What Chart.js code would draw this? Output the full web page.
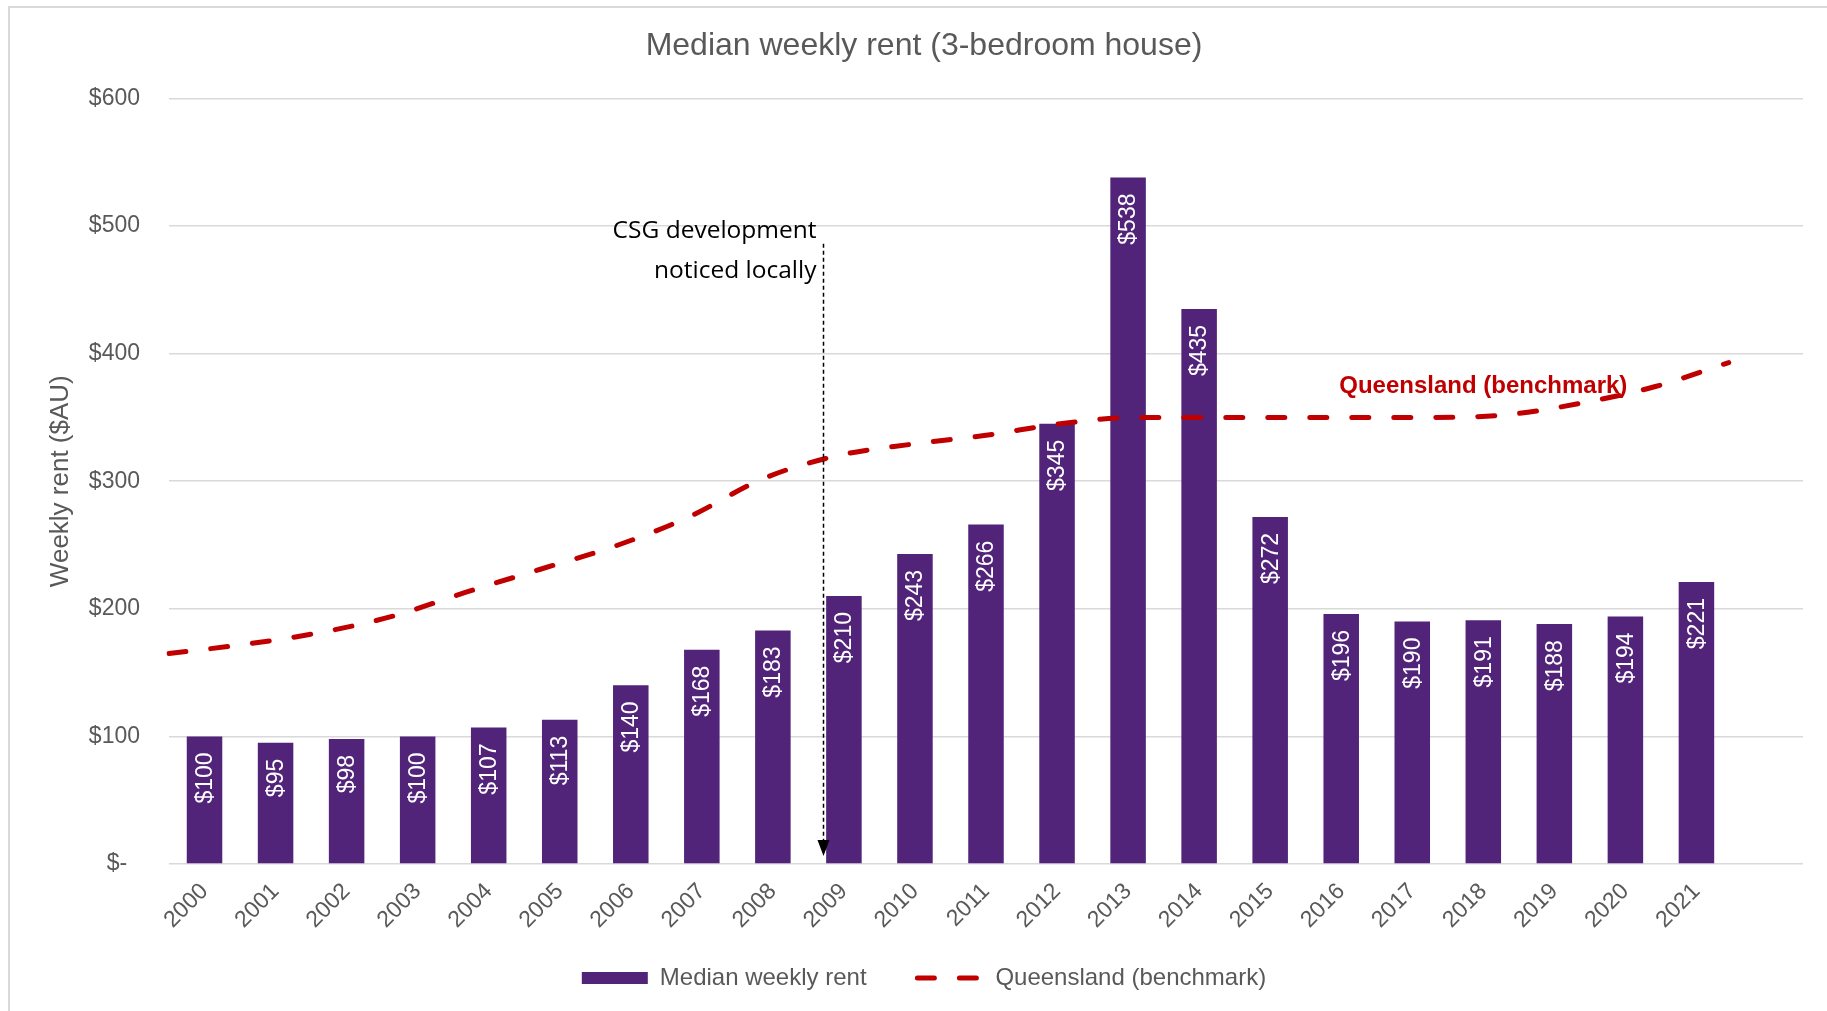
<!DOCTYPE html>
<html>
<head>
<meta charset="utf-8">
<script src="https://cdn.jsdelivr.net/npm/chart.js@4.4.1/dist/chart.umd.min.js"></script>
<style>
  html, body { margin: 0; padding: 0; background: #fff; }
  #wrap { position: relative; width: 1827px; height: 1011px; overflow: hidden; }
  #frame { position: absolute; left: 8px; top: 6px; width: 1840px; height: 1030px; border: 2px solid #d9d9d9; box-sizing: border-box; }
  canvas { position: absolute; left: 0; top: 0; }
</style>
</head>
<body>
<div id="wrap">
  <div id="frame"></div>
  <canvas id="c" width="1827" height="1011"></canvas>
</div>
<script>
// categories (last slot is empty, Excel leaves room after 2021)
const years = ['2000', '2001', '2002', '2003', '2004', '2005', '2006', '2007', '2008', '2009', '2010',
  '2011', '2012', '2013', '2014', '2015', '2016', '2017', '2018', '2019', '2020', '2021', ''];
// median weekly rent, 3-bedroom house ($AU)
const rent = [100, 95, 98, 100, 107, 113, 140, 168, 183, 210, 243, 266, 345, 538, 435, 272, 196, 190, 191, 188, 194, 221];
// Queensland benchmark
const qld = [165, 172, 181, 194, 213, 231, 249, 272, 302, 320, 329, 336, 345, 350, 350, 350, 350, 350, 352, 361, 374, 393];
const yTicks = [0, 100, 200, 300, 400, 500, 600];

const GREY = '#595959';
const PURPLE = '#51247a';
const RED = '#c00000';
const FONT = '"Liberation Sans", Arial, sans-serif';

// annotation: CSG development arrow between 2008 and 2009
const csgIndex = 8.7;
const csgTop = 486;

const overlay = {
  id: 'overlay',
  afterDatasetsDraw(chart) {
    const ctx = chart.ctx;
    const x = chart.scales.x;
    const y = chart.scales.y;

    // value labels inside bar tops
    const meta = chart.getDatasetMeta(0);
    ctx.save();
    ctx.fillStyle = '#fff';
    ctx.font = '23px ' + FONT;
    ctx.textAlign = 'right';
    ctx.textBaseline = 'middle';
    meta.data.forEach((bar, i) => {
      ctx.save();
      ctx.translate(bar.x + 1, bar.y + 16);
      ctx.rotate(-Math.PI / 2);
      ctx.fillText('$' + rent[i], 0, 0);
      ctx.restore();
    });
    ctx.restore();

    // dashed arrow
    const p8 = x.getPixelForValue(8), p9 = x.getPixelForValue(9);
    const ax = Math.round(p8 + (csgIndex - 8) * (p9 - p8)) + 0.5;
    const top = y.getPixelForValue(csgTop);
    const tip = chart.chartArea.bottom - 8;
    ctx.save();
    ctx.strokeStyle = '#000';
    ctx.lineWidth = 1.5;
    ctx.setLineDash([4, 3]);
    ctx.beginPath();
    ctx.moveTo(ax, top);
    ctx.lineTo(ax, tip - 14);
    ctx.stroke();
    ctx.setLineDash([]);
    ctx.fillStyle = '#000';
    ctx.beginPath();
    ctx.moveTo(ax - 6, tip - 16);
    ctx.lineTo(ax + 6, tip - 16);
    ctx.lineTo(ax, tip);
    ctx.closePath();
    ctx.fill();

    ctx.font = '24.5px "Open Sans", sans-serif';
    ctx.textAlign = 'right';
    ctx.textBaseline = 'middle';
    ctx.fillText('CSG development', ax - 7, 231);
    ctx.fillText('noticed locally', ax - 7, 271);

    // Queensland label
    ctx.fillStyle = RED;
    ctx.font = 'bold 24px ' + FONT;
    ctx.textAlign = 'center';
    ctx.fillText('Queensland (benchmark)', x.getPixelForValue(18), y.getPixelForValue(374));
    ctx.restore();
  }
};

new Chart(document.getElementById('c'), {
  type: 'bar',
  data: {
    labels: years,
    datasets: [
      {
        type: 'bar',
        label: 'Median weekly rent',
        data: rent,
        backgroundColor: PURPLE,
        borderWidth: 0,
        grouped: false,
        barPercentage: 0.5,
        categoryPercentage: 1,
        pointStyle: 'rect',
        order: 1
      },
      {
        type: 'line',
        label: 'Queensland (benchmark)',
        data: qld,
        xAxisID: 'x2',
        borderColor: RED,
        backgroundColor: RED,
        borderWidth: 5,
        borderDash: [17, 25],
        borderCapStyle: 'round',
        cubicInterpolationMode: 'monotone',
        pointRadius: 0,
        pointStyle: 'line',
        fill: false,
        order: 0
      }
    ]
  },
  options: {
    responsive: false,
    animation: false,
    devicePixelRatio: 1,
    layout: { padding: { left: 45, right: 24, top: 0, bottom: 11 } },
    plugins: {
      title: {
        display: true,
        text: 'Median weekly rent (3-bedroom house)',
        color: GREY,
        font: { family: FONT, size: 32, weight: 'normal' },
        padding: { top: 27, bottom: 33 }
      },
      legend: {
        position: 'bottom',
        reverse: true,
        labels: {
          color: GREY,
          font: { family: FONT, size: 24 },
          usePointStyle: true,
          pointStyleWidth: 66,
          boxHeight: 12,
          padding: 10,
          generateLabels: (chart) => {
            const items = Chart.defaults.plugins.legend.labels.generateLabels(chart);
            items.forEach((it) => {
              const ds = chart.data.datasets[it.datasetIndex];
              if (ds.type === 'line') {
                it.lineDash = ds.borderDash;
                it.lineCap = 'round';
                it.lineWidth = ds.borderWidth;
                it.strokeStyle = ds.borderColor;
              } else {
                // wider gap before the next legend entry
                it.text = ds.label + '\u2003\u2002\u2009';
              }
            });
            return items;
          }
        }
      },
      tooltip: { enabled: false }
    },
    scales: {
      x: {
        type: 'category',
        grid: { display: false },
        border: { display: false },
        ticks: {
          color: GREY,
          font: { family: FONT, size: 23 },
          minRotation: 45,
          maxRotation: 45,
          autoSkip: false,
          padding: 6
        },
        afterFit: (s) => { s.height = 92; }
      },
      x2: {
        type: 'category',
        labels: years,
        offset: false,
        display: false
      },
      y: {
        min: 0,
        max: 600,
        afterBuildTicks: (s) => { s.ticks = yTicks.map(v => ({ value: v })); },
        grid: { color: '#d9d9d9', lineWidth: 1.5, drawTicks: false },
        border: { display: false },
        ticks: {
          color: GREY,
          font: { family: FONT, size: 23 },
          padding: 29,
          callback: (v) => v === 0 ? '$-  ' : '$' + v
        },
        title: {
          display: true,
          text: 'Weekly rent ($AU)',
          color: GREY,
          font: { family: FONT, size: 26 },
          padding: { top: 0, bottom: 0 }
        },
        afterFit: (s) => { s.width = 124; }
      }
    }
  },
  plugins: [overlay]
});
</script>
</body>
</html>
